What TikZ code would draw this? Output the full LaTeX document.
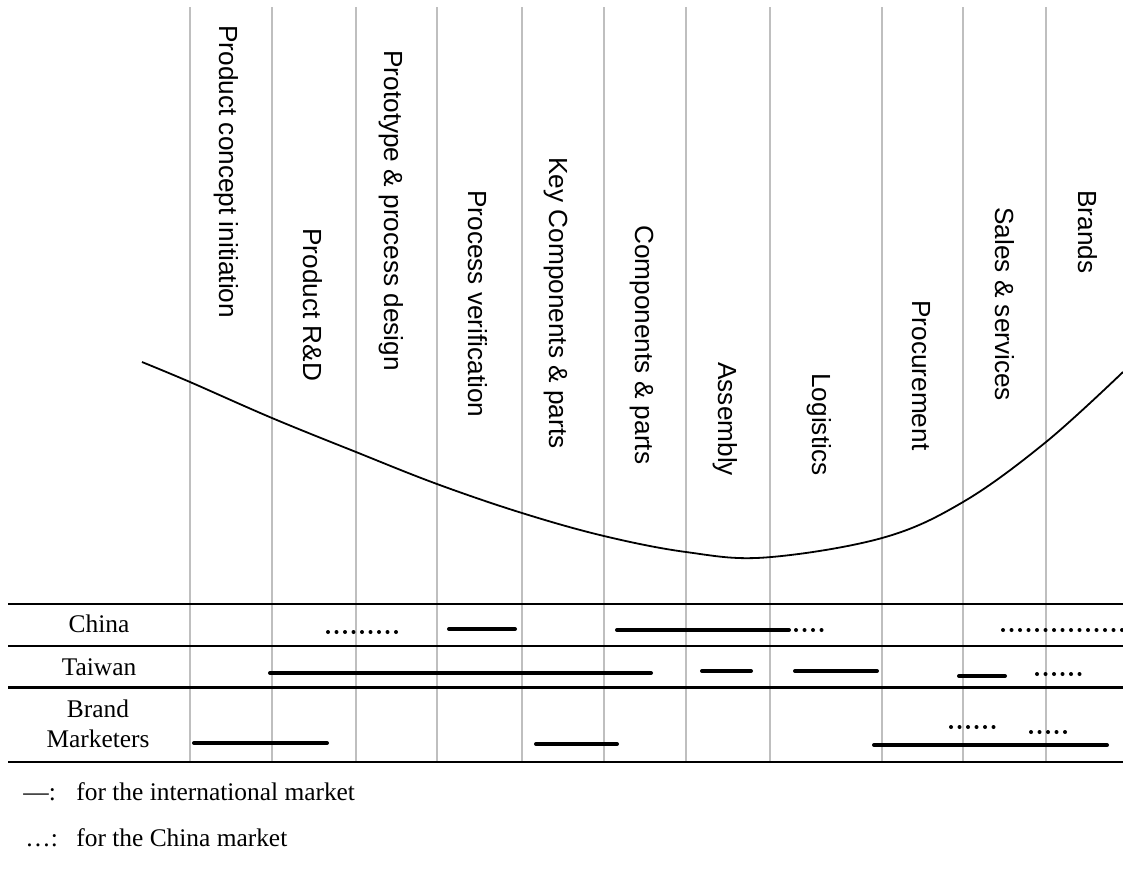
\documentclass[tikz,border=0pt]{standalone}
\usepackage{fontspec}
\setmainfont{Liberation Serif}
\newfontfamily\stagefont{Liberation Sans}
\begin{document}
\begin{tikzpicture}[x=0.5pt,y=-0.5pt,
    stage/.style={rotate=-90,anchor=base west,inner sep=0pt,font=\stagefont\fontsize{13.1}{15}\selectfont},
    rowlbl/.style={inner sep=0pt,align=center,font=\fontsize{12.7}{15}\selectfont},
    keylbl/.style={anchor=base west,inner sep=0pt,font=\fontsize{12.7}{15}\selectfont},
    sep/.style={draw=black!25,line width=1pt},
    rule/.style={line width=1.1pt},
    intl/.style={line width=2pt,line cap=round},
    cnmkt/.style={line width=2pt,line cap=round,dash pattern=on 0pt off 4.25pt}]
  \useasboundingbox (0,0) rectangle (1123,869);
      %%stage columns
      \foreach \gx in {190,272,356,437,522,604,686,770,882,963,1046}
        \draw[sep] (\gx,7) to (\gx,762);
      \foreach \bx/\ty/\txt [count=\i] in {219/25/Product concept initiation,
          303.5/228/Product R\&D, 384.5/50/Prototype \& process design,
          468/190/Process verification, 549/157/Key Components \& parts,
          635/225/Components \& parts, 718.5/362/Assembly, 812/373/Logistics,
          912/300/Procurement, 995/207/Sales \& services, 1078.5/190/Brands}
        \node[stage] (stage\i) at (\bx,\ty) {\txt};
      %%smile curve
      \draw[line width=0.9pt] plot[smooth,tension=0.6] coordinates {(142,362) (190,382)
          (272,418) (356,452) (437,484) (522,513) (604,536) (686,552) (765,557.5)
          (882,538) (963,502) (1046,442) (1123,372)};
      %%table rows
      \draw[rule] (8,604) to (1123,604);
      \draw[rule] (8,646) to (1123,646);
      \draw[rule] (8,687.5) to (1123,687.5);
      \draw[rule] (8,762) to (1123,762);
      \node[rowlbl,anchor=base] (china) at (99,632.7) {China};
      \node[rowlbl,anchor=base] (taiwan) at (99,675) {Taiwan};
      \node[rowlbl] (brand) at (98,723.7) {Brand\\Marketers};
        %%China
        \draw[cnmkt] (328,632) to (397,632);
        \draw[intl] (449,629) to (515,629);
        \draw[intl] (617,630) to (789,630);
        \draw[cnmkt] (796,630) to (823,630);
        \draw[cnmkt] (1003,630) to (1123,630);
        %%Taiwan
        \draw[intl] (270,673) to (651,673);
        \draw[intl] (702,671) to (751,671);
        \draw[intl] (795,671) to (877,671);
        \draw[intl] (959,676) to (1005,676);
        \draw[cnmkt] (1037,674) to (1082,674);
        %%Brand marketers
        \draw[intl] (194,743) to (327,743);
        \draw[intl] (536,744) to (617,744);
        \draw[cnmkt] (951,727) to (996,727);
        \draw[cnmkt] (1031,732) to (1066,732);
        \draw[intl] (874,745) to (1107,745);
      %%key
      \node[keylbl] (keyintl) at (23,800) {—:};
      \node[keylbl] (txtintl) at (76,800) {for the international market};
      \node[keylbl] (keycn) at (25,846) {…:};
      \node[keylbl] (txtcn) at (76,846) {for the China market};
\end{tikzpicture}
\end{document}
